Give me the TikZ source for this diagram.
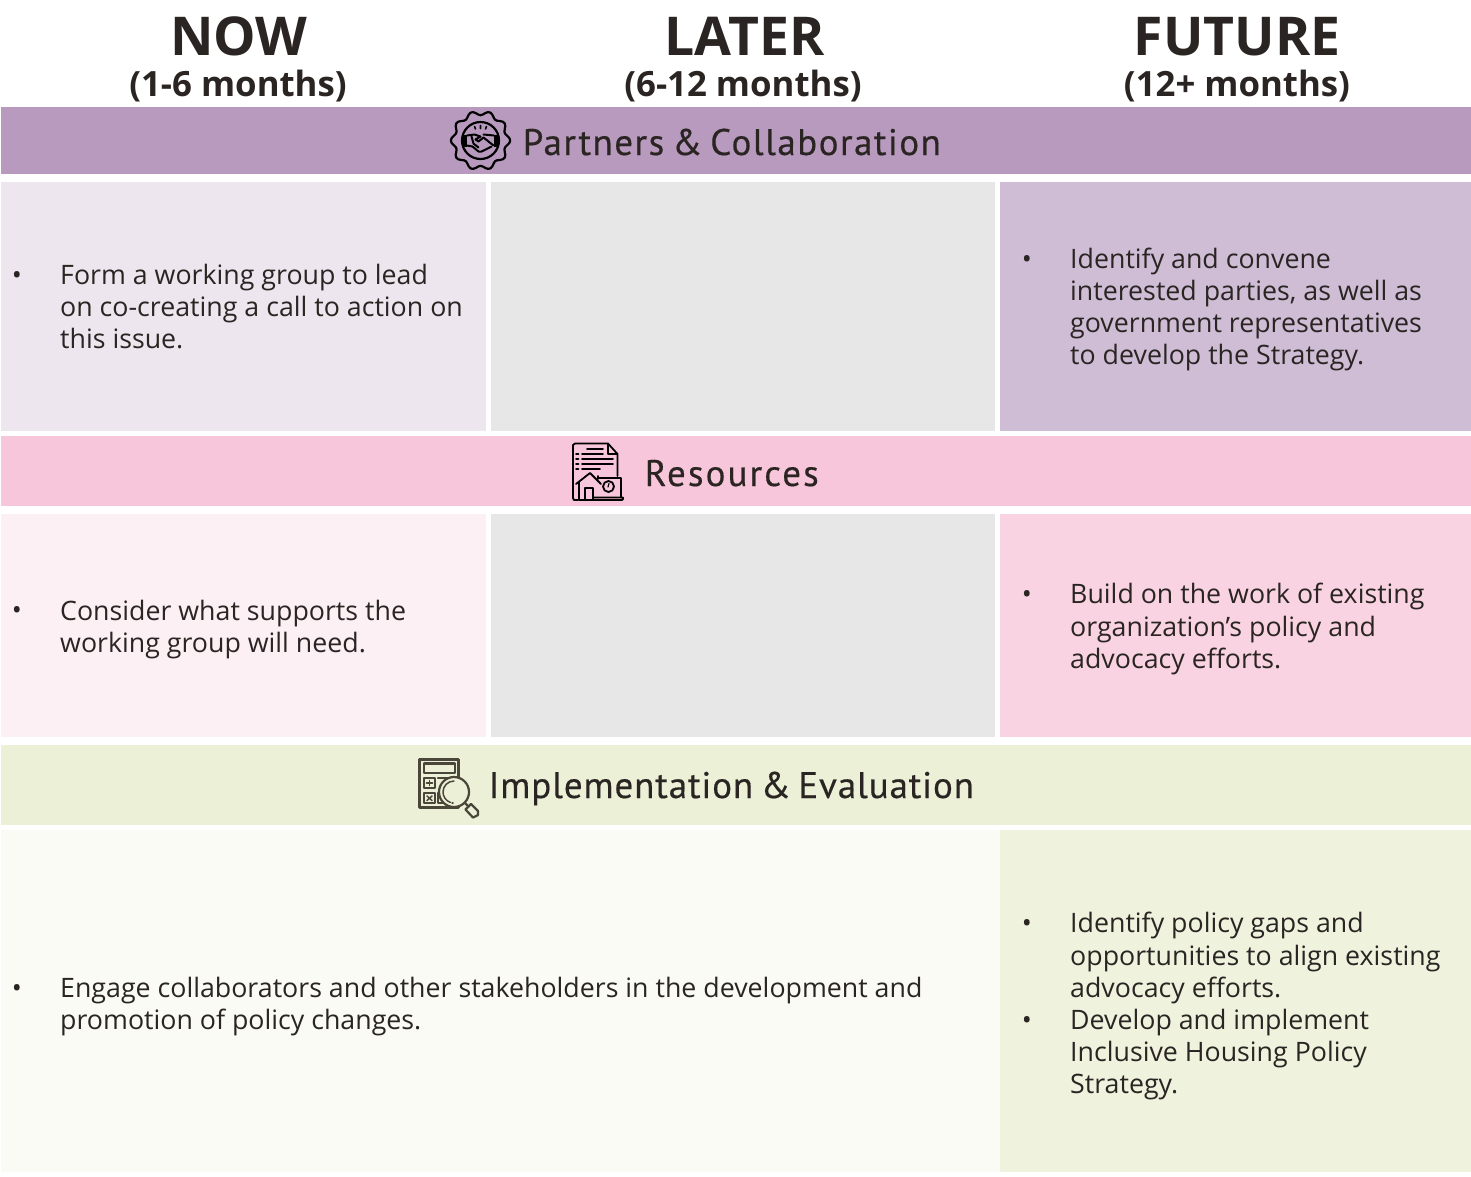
\documentclass[tikz,border=0pt]{standalone}
\usepackage{fontspec}
\setmainfont{Open Sans}
\newfontfamily\bandfontA[LetterSpace=4.0,WordSpace=0.7,FakeBold=0.4]{PT Sans}
\newfontfamily\bandfontB[LetterSpace=5.7,WordSpace=0.7,FakeBold=0.4]{PT Sans}
\newfontfamily\bandfontC[LetterSpace=2.4,WordSpace=0.7,FakeBold=0.4]{PT Sans}
\definecolor{ink}{HTML}{2A2522}
\definecolor{bandA}{HTML}{B89ABE}
\definecolor{cellA}{HTML}{EDE6EE}
\definecolor{cellAr}{HTML}{CFBDD6}
\definecolor{bandB}{HTML}{F8C6DA}
\definecolor{cellB}{HTML}{FCF0F5}
\definecolor{cellBr}{HTML}{F9D3E1}
\definecolor{bandC}{HTML}{EBF0D7}
\definecolor{cellC}{HTML}{FAFBF5}
\definecolor{cellCr}{HTML}{EFF3DE}
\definecolor{grayc}{HTML}{E7E7E7}
\definecolor{iconC}{HTML}{4A463A}
\tikzset{
 head/.style={text=ink,font=\fontsize{53.5}{53.5}\selectfont\bfseries,inner sep=0pt,anchor=base},
 sub/.style={text=ink,font=\fontsize{34.8}{34.8}\selectfont\bfseries,inner sep=0pt,anchor=base},
 bandtext/.style={text=ink,inner sep=0pt,anchor=base west},
 body/.style={text=ink,font=\fontsize{26.75}{32.3}\selectfont,inner sep=0pt,anchor=base west,align=left},
 bul/.style={text=ink,font=\fontsize{26.75}{32.3}\selectfont,inner sep=0pt,anchor=base},
}
\begin{document}
\begin{tikzpicture}[x=1pt,y=-1pt]
\useasboundingbox (0,0) rectangle (1471,1176);
\fill[white] (0,0) rectangle (1471,1176);
% bands and cells
\fill[bandA] (1,107) rectangle (1471,174);
\fill[cellA] (1,182) rectangle (486,431);
\fill[grayc] (491,182) rectangle (995,431);
\fill[cellAr] (1000,182) rectangle (1471,431);
\fill[bandB] (1,436) rectangle (1471,506);
\fill[cellB] (1,514) rectangle (486,737);
\fill[grayc] (491,514) rectangle (995,737);
\fill[cellBr] (1000,514) rectangle (1471,737);
\fill[bandC] (1,745) rectangle (1471,825);
\fill[cellC] (1,830) rectangle (1000,1172);
\fill[cellCr] (1000,830) rectangle (1471,1172);
% headers
\node[head] (h1) at (239,55) {NOW};
\node[head] (h2) at (744.5,55) {LATER};
\node[head] (h3) at (1237,55) {FUTURE};
\node[sub] (s1) at (238,96) {(1-6 months)};
\node[sub] (s2) at (743,96) {(6-12 months)};
\node[sub] (s3) at (1237,96) {(12+ months)};
% band titles
\node[bandtext,font=\fontsize{37}{37}\selectfont\bandfontA] (b1) at (522.5,155) {Partners \& Collaboration};
\node[bandtext,font=\fontsize{37}{37}\selectfont\bandfontB] (b2) at (644.5,486) {Resources};
\node[bandtext,font=\fontsize{37}{37}\selectfont\bandfontC] (b3) at (488.5,798) {Implementation \& Evaluation};
% body (node base = last line)
\node[bul] (d1) at (17,284) {•};
\node[body] (t1) at (60,348.6) {Form a working group to lead\\on co-creating a call to action on\\this issue.};
\node[bul] (d2) at (1027,268) {•};
\node[body] (t2) at (1070,364.9) {Identify and convene\\interested parties, as well as\\government representatives\\to develop the Strategy.};
\node[bul] (d3) at (17,619) {•};
\node[body] (t3) at (60,652.4) {Consider what supports the\\working group will need.};
\node[bul] (d4) at (1027,603) {•};
\node[body] (t4) at (1070,668.4) {Build on the work of existing\\organization’s policy and\\advocacy efforts.};
\node[bul] (d5) at (17,997.4) {•};
\node[body] (t5) at (60,1029.5) {Engage collaborators and other stakeholders in the development and\\promotion of policy changes.};
\node[bul] (d6) at (1027,932) {•};
\node[body] (t6) at (1070,997.4) {Identify policy gaps and\\opportunities to align existing\\advocacy efforts.};
\node[bul] (d7) at (1027,1029) {•};
\node[body] (t7) at (1070,1093.6) {Develop and implement\\Inclusive Housing Policy\\Strategy.};
% handshake icon
\begin{scope}[shift={(480.5,140.5)},draw=black,line width=2.2pt,line join=round,line cap=round]
\draw plot[smooth cycle,samples=72,domain=0:355,variable=\a] ({(27.5+2.2*cos(10*\a))*cos(\a)},{(27.5+2.2*cos(10*\a))*sin(\a)});
\draw circle (18.5);
\fill (-18.5,-6) rectangle (-13.5,6);
\fill (13.5,-6) rectangle (18.5,6);
\draw[line width=2pt] (-13.5,-5) -- (-6,-6) -- (0,-4) -- (-5,-1) -- (-2,1) -- (3,-3) -- (13,5);
\draw[line width=2pt] (-13.5,5) -- (-8,6) -- (-2,11) -- (1,11) -- (11,6);
\draw[line width=2pt] (-9,-4) -- (-7,3) -- (-2,7);
\draw[line width=2pt] (3,-6) -- (13.5,-5);
\draw[line width=1.6pt] (0,-15) -- (0,-12) (-6,-14) -- (-5,-11.5) (6,-14) -- (5,-11.5);
\end{scope}
% document icon
\begin{scope}[draw=black,line width=1.8pt,line join=round,line cap=round]
\draw (578,500) -- (574,500) -- (573,498) -- (573,445) -- (575,443.5) -- (608,443.5) -- (617.5,454) -- (617.5,476);
\draw (608,444) -- (608,454) -- (617,454);
\draw (587,449) -- (603,449);
\draw (582,454) -- (603,454);
\draw (582,459) -- (613,459) (582,464) -- (613,464) (582,469) -- (600,469) (576,454) -- (578.5,454) (576,459) -- (578.5,459) (576,464) -- (578.5,464) (576,469) -- (578.5,469);
\draw (576,484) -- (590,473) -- (601,484);
\draw (579,482) -- (579,500) -- (601,500);
\draw (585,500) -- (585,488) -- (593,488) -- (593,500);
\draw (598,476) -- (598,479) (598,478) -- (621,478) -- (621,497);
\draw (594,497.5) -- (623,497.5) -- (623,499) -- (622,500) -- (600,500);
\draw (608.5,486.5) circle (5.5);
\draw[line width=1.2pt] (609,483.5) -- (608,487);
\end{scope}
% calculator icon
\begin{scope}[draw=iconC,line width=2.2pt,line join=round,line cap=round]
\draw (419.5,759.5) rectangle (458.5,807.5);
\draw (424,763.5) rectangle (455,773);
\draw (424,778) rectangle (435,788);
\draw (424,793) rectangle (435,803);
\draw (438,778) -- (449,778);
\draw (438,793) -- (438,803) -- (447,803);
\draw[line width=1.5pt] (426.5,783) -- (432.5,783) (429.5,780.5) -- (429.5,785.5);
\draw[line width=1.5pt] (427,796) -- (432,800.5) (432,796) -- (427,800.5);
\draw[fill=bandC] (454,792) circle (15);
\draw[line width=1.5pt] (454,781) arc (-90:-250:11);
\draw[line width=1.5pt] (452,803) -- (453,803);
\draw (465,803) -- (468.5,806.5);
\draw (465.5,809.5) -- (471,804) -- (478,811) -- (478,815) -- (473,817.5) -- cycle;
\end{scope}
\end{tikzpicture}
\end{document}
